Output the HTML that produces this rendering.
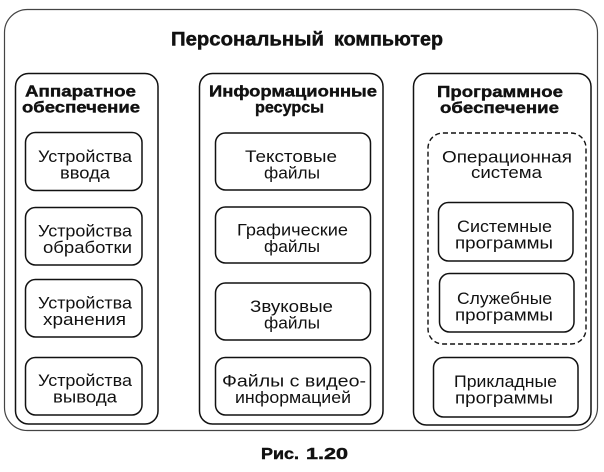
<!DOCTYPE html>
<html>
<head>
<meta charset="utf-8">
<style>
  html, body { margin: 0; padding: 0; background: #fff; }
  body { width: 604px; height: 472px; overflow: hidden; }
  svg { display: block; }
  .t { font-family: "Liberation Sans", "DejaVu Sans", sans-serif; fill: #111; }
  .b { font-weight: bold; stroke: #111; stroke-width: 0.45; }
  .hd { font-size: 15.5px; font-weight: bold; stroke: #111; stroke-width: 0.4; }
  .rg { font-size: 17px; }
</style>
</head>
<body>
<svg width="604" height="472" viewBox="0 0 604 472" xmlns="http://www.w3.org/2000/svg">
  <rect x="0" y="0" width="604" height="472" fill="#fff"/>

  <!-- outer frame -->
  <rect x="4.5" y="9.5" width="593" height="421" rx="23" ry="23" fill="none" stroke="#444" stroke-width="1.2"/>

  <!-- title -->
  <text class="t b" x="171" y="45.5" font-size="19.5" textLength="153" lengthAdjust="spacingAndGlyphs">Персональный</text>
  <text class="t b" x="334" y="45.5" font-size="19.5" textLength="109" lengthAdjust="spacingAndGlyphs">компьютер</text>

  <!-- columns -->
  <rect x="15.5" y="73.5" width="142.5" height="350.5" rx="13" ry="13" fill="none" stroke="#111" stroke-width="1.5"/>
  <rect x="199.5" y="73.5" width="183.5" height="350.5" rx="13" ry="13" fill="none" stroke="#111" stroke-width="1.5"/>
  <rect x="413.5" y="73.5" width="177.5" height="351.5" rx="13" ry="13" fill="none" stroke="#111" stroke-width="1.5"/>

  <!-- column headers -->
  <text class="t hd" x="25" y="96.5" textLength="111" lengthAdjust="spacingAndGlyphs">Аппаратное</text>
  <text class="t hd" x="22" y="112.5" textLength="118" lengthAdjust="spacingAndGlyphs">обеспечение</text>

  <text class="t hd" x="209" y="96.5" textLength="168" lengthAdjust="spacingAndGlyphs">Информационные</text>
  <text class="t hd" x="255" y="112.5" textLength="69" lengthAdjust="spacingAndGlyphs">ресурсы</text>

  <text class="t hd" x="437" y="97" textLength="126" lengthAdjust="spacingAndGlyphs">Программное</text>
  <text class="t hd" x="440" y="113" textLength="119" lengthAdjust="spacingAndGlyphs">обеспечение</text>

  <!-- left column boxes -->
  <rect x="25.5" y="132.5" width="116.5" height="58" rx="10" ry="10" fill="none" stroke="#111" stroke-width="1.5"/>
  <text class="t rg" x="38" y="162" textLength="94" lengthAdjust="spacingAndGlyphs">Устройства</text>
  <text class="t rg" x="60" y="178.5" textLength="50" lengthAdjust="spacingAndGlyphs">ввода</text>

  <rect x="25.5" y="207.5" width="116.5" height="57.5" rx="10" ry="10" fill="none" stroke="#111" stroke-width="1.5"/>
  <text class="t rg" x="38" y="236.5" textLength="94" lengthAdjust="spacingAndGlyphs">Устройства</text>
  <text class="t rg" x="43" y="253" textLength="89" lengthAdjust="spacingAndGlyphs">обработки</text>

  <rect x="25.5" y="279.5" width="116.5" height="57.5" rx="10" ry="10" fill="none" stroke="#111" stroke-width="1.5"/>
  <text class="t rg" x="38" y="308.5" textLength="94" lengthAdjust="spacingAndGlyphs">Устройства</text>
  <text class="t rg" x="43" y="325" textLength="83" lengthAdjust="spacingAndGlyphs">хранения</text>

  <rect x="25.5" y="357.5" width="116.5" height="57.5" rx="10" ry="10" fill="none" stroke="#111" stroke-width="1.5"/>
  <text class="t rg" x="38" y="386" textLength="94" lengthAdjust="spacingAndGlyphs">Устройства</text>
  <text class="t rg" x="53" y="402.5" textLength="64" lengthAdjust="spacingAndGlyphs">вывода</text>

  <!-- middle column boxes -->
  <rect x="215.5" y="133" width="155" height="57" rx="10" ry="10" fill="none" stroke="#111" stroke-width="1.5"/>
  <text class="t rg" x="245" y="162" textLength="92" lengthAdjust="spacingAndGlyphs">Текстовые</text>
  <text class="t rg" x="264" y="178.5" textLength="56" lengthAdjust="spacingAndGlyphs">файлы</text>

  <rect x="215.5" y="207" width="155" height="56" rx="10" ry="10" fill="none" stroke="#111" stroke-width="1.5"/>
  <text class="t rg" x="237" y="235.5" textLength="111" lengthAdjust="spacingAndGlyphs">Графические</text>
  <text class="t rg" x="264" y="252" textLength="56" lengthAdjust="spacingAndGlyphs">файлы</text>

  <rect x="215.5" y="283" width="155" height="57" rx="10" ry="10" fill="none" stroke="#111" stroke-width="1.5"/>
  <text class="t rg" x="250" y="312" textLength="83" lengthAdjust="spacingAndGlyphs">Звуковые</text>
  <text class="t rg" x="264" y="328.5" textLength="56" lengthAdjust="spacingAndGlyphs">файлы</text>

  <rect x="215.5" y="357.5" width="155" height="57.5" rx="10" ry="10" fill="none" stroke="#111" stroke-width="1.5"/>
  <text class="t rg" x="222" y="386.5" textLength="144" lengthAdjust="spacingAndGlyphs">Файлы с видео-</text>
  <text class="t rg" x="235" y="403" textLength="116" lengthAdjust="spacingAndGlyphs">информацией</text>

  <!-- right column -->
  <rect x="428" y="133" width="158" height="211" rx="15" ry="15" fill="none" stroke="#111" stroke-width="1.4" stroke-dasharray="5 3"/>
  <text class="t rg" x="442" y="162.5" textLength="130" lengthAdjust="spacingAndGlyphs">Операционная</text>
  <text class="t rg" x="471" y="178" textLength="71" lengthAdjust="spacingAndGlyphs">система</text>

  <rect x="438.5" y="202.5" width="134.5" height="58.5" rx="10" ry="10" fill="none" stroke="#111" stroke-width="1.5"/>
  <text class="t rg" x="457" y="232" textLength="95" lengthAdjust="spacingAndGlyphs">Системные</text>
  <text class="t rg" x="455" y="248.5" textLength="98" lengthAdjust="spacingAndGlyphs">программы</text>

  <rect x="439.5" y="273.5" width="134.5" height="58.5" rx="10" ry="10" fill="none" stroke="#111" stroke-width="1.5"/>
  <text class="t rg" x="457" y="304" textLength="95" lengthAdjust="spacingAndGlyphs">Служебные</text>
  <text class="t rg" x="455" y="320.5" textLength="98" lengthAdjust="spacingAndGlyphs">программы</text>

  <rect x="433.5" y="357.5" width="144.5" height="59.5" rx="10" ry="10" fill="none" stroke="#111" stroke-width="1.5"/>
  <text class="t rg" x="454" y="387" textLength="103" lengthAdjust="spacingAndGlyphs">Прикладные</text>
  <text class="t rg" x="455" y="403.5" textLength="98" lengthAdjust="spacingAndGlyphs">программы</text>

  <!-- caption -->
  <text class="t b" x="261" y="459" font-size="16" textLength="38" lengthAdjust="spacingAndGlyphs">Рис.</text>
  <text class="t b" x="306" y="459" font-size="16" textLength="42" lengthAdjust="spacingAndGlyphs">1.20</text>
</svg>
</body>
</html>
